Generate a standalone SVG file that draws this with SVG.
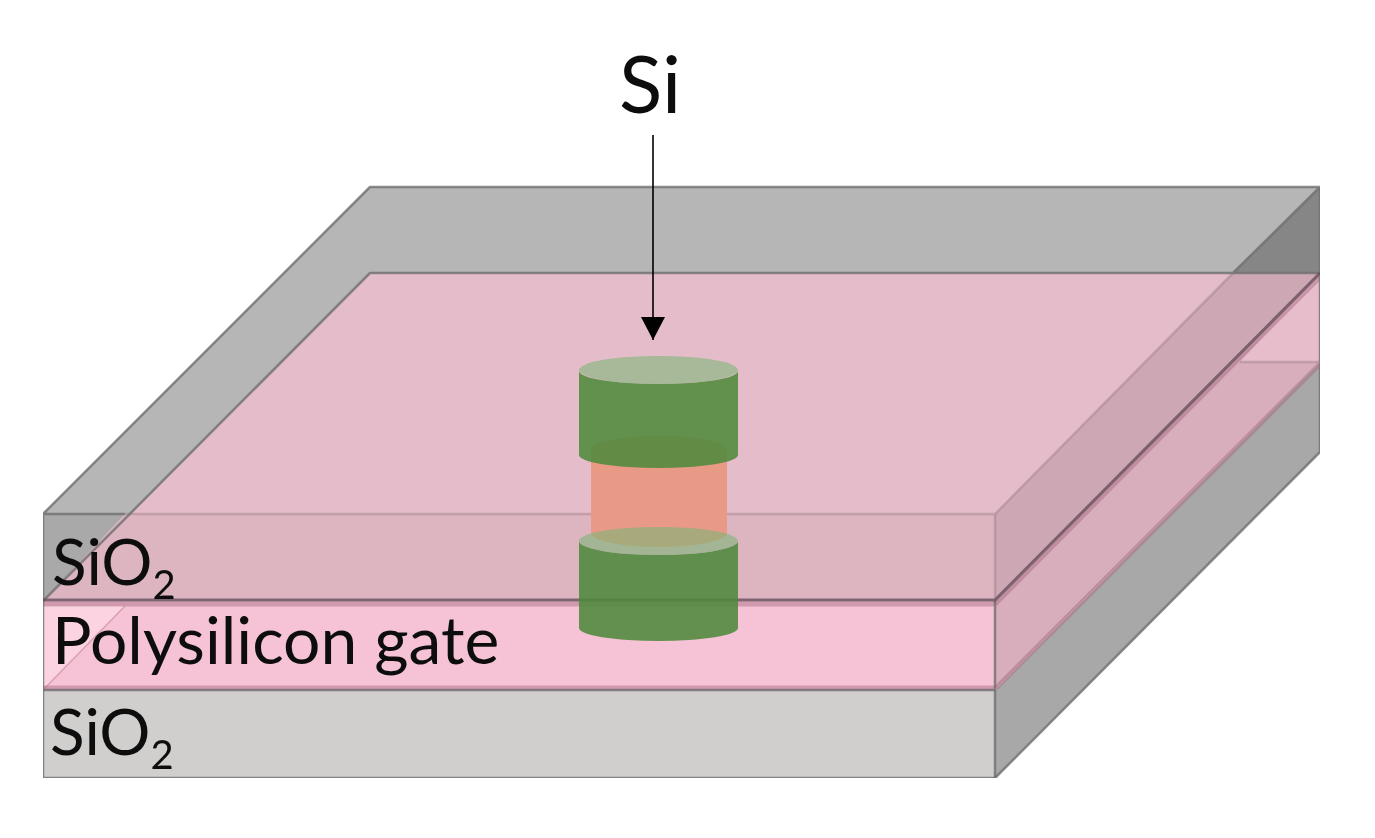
<svg xmlns="http://www.w3.org/2000/svg" width="1375" height="838" viewBox="0 0 1375 838">
<defs>
<style>
.edge{fill:none;stroke:#6f6f6f;stroke-width:2.5;stroke-opacity:.8;stroke-linejoin:round}
.soft{fill:none;stroke:#8a6f7b;stroke-width:2.5;stroke-opacity:.35}
.dark{fill:none;stroke:#5f4a55;stroke-width:3;stroke-opacity:.75}
.rose{fill:none;stroke:#a5667e;stroke-width:5;stroke-opacity:.45}
.lab{font-family:"Lato","Carlito","Liberation Sans",sans-serif;fill:#111}
.green{fill:#4e893c;fill-opacity:.87}
.cap{fill:#7db576;fill-opacity:.6}
</style>
<filter id="soften" x="0" y="0" width="100%" height="100%"><feGaussianBlur stdDeviation="0.7"/></filter>
<marker id="ah" markerUnits="userSpaceOnUse" markerWidth="24" markerHeight="26" refX="23" refY="12" orient="auto">
<path d="M0,0 L23,12 L0,24 Z" fill="#000"/>
</marker>
</defs>
<rect width="1375" height="838" fill="#fff"/>
<g filter="url(#soften)">
<g id="lower-sio2">
<rect x="43" y="690" width="952" height="88" fill="#d0cfce"/>
<polygon points="995,690 1320,362 1320,452 995,778" fill="#a9a8a8"/>
<path class="edge" d="M43,690 V778 H995 L1320,452 V362"/>
<path class="edge" d="M995,690 V778"/>
</g>
<g id="polysilicon-gate">
<rect x="43" y="601" width="952" height="89" fill="#f5c3d5"/>
<polygon points="43,606 125,606 43,690" fill="#fbd3e1"/>
<path d="M43,690 L125,606" fill="none" stroke="#d9a0b4" stroke-width="1.5"/>
<polygon points="995,601 1320,273 1320,362 995,690" fill="#d8aebc"/>
<polygon points="1240,362 1320,273 1320,362" fill="#e7bccb"/>
<path class="soft" d="M1240,362 H1320"/>
<path class="rose" d="M43,604 H995 M43,688 H995"/>
<path class="rose" d="M995,604 L1320,277 M996,688 L1320,364"/>
<path class="edge" d="M43,601 V690 H995 V601 M1320,273 V362"/>
</g>
<g id="upper-sio2">
<polygon points="43,514 370,187 1320,187 1320,273 995,601 43,601" fill="#b6b6b6"/>
<polygon points="1233,273 1320,187 1320,273" fill="#868686"/>
<polygon points="43,514 125,514 43,601" fill="#a9a9a9"/>
<polygon points="43,601 370,273 1320,273 995,601" fill="#e5bdca"/>
<polygon points="125,514 995,514 995,601 43,601" fill="#dcb5c1"/>
<polygon points="995,514 1233,273 1320,273 995,601" fill="#cda8b4"/>
<path class="soft" d="M125,514 H995 V601 M995,514 L1233,273"/>
<path class="edge" d="M125,514 H43 V601 M43,514 L370,187 H1320 V273 M43,601 L370,273 H1320 M1233,273 L1320,187"/>
<path class="dark" d="M43,600 H995 L1320,273"/>
</g>
<g id="si-pillar">
<path d="M591,450 A68,14 0 0 1 727,450 V533 A68,14 0 0 1 591,533 Z" fill="#e89a86"/>
<path class="green" d="M579,371 A79.500,13 0 0 0 738,371 V455 A79.500,13 0 0 1 579,455 Z"/>
<ellipse class="cap" cx="658.500" cy="370" rx="79.500" ry="14"/>
<path class="green" d="M579,541 A79.500,14 0 0 0 738,541 V628 A79.500,13 0 0 1 579,628 Z"/>
<ellipse class="cap" cx="658.500" cy="541" rx="79.500" ry="14"/>
</g>
<g id="connectors">
<line x1="653" y1="135" x2="653" y2="340" stroke="#000" stroke-width="1.6" marker-end="url(#ah)"/>
</g>
<g id="label-si"><text class="lab" x="619" y="113" font-size="80">Si</text></g>
<g id="label-sio2-top"><text class="lab" x="52" y="585" font-size="64">SiO<tspan font-size="40" dy="14">2</tspan></text></g>
<g id="label-gate"><text class="lab" x="52" y="664" font-size="66">Polysilicon gate</text></g>
<g id="label-sio2-bottom"><text class="lab" x="50" y="755" font-size="64">SiO<tspan font-size="40" dy="14">2</tspan></text></g>
</g>
</svg>
